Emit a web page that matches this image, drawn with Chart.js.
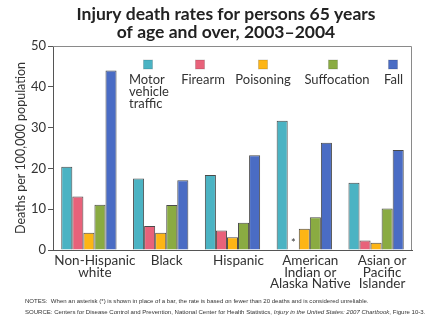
<!DOCTYPE html>
<html>
<head>
<meta charset="utf-8">
<script src="https://cdn.jsdelivr.net/npm/chart.js@4.4.1/dist/chart.umd.min.js"></script>
<style>
  html, body { margin: 0; padding: 0; background: #fff; }
  #wrap { position: relative; width: 440px; height: 330px; overflow: hidden; }
  #box { position: absolute; left: 0; top: 0; width: 440px; height: 300px; }
  .note { position: absolute; left: 25px; font: 6.05px 'Liberation Sans', Arial, sans-serif; color: #333; white-space: nowrap; }
</style>
</head>
<body>
<div id="wrap">
  <div id="box"><canvas id="grafico"></canvas></div>
  <div class="note" style="top:298px">NOTES:&nbsp; When an asterisk (*) is shown in place of a bar, the rate is based on fewer than 20 deaths and is considered unreliable.</div>
  <div class="note" style="top:309px">SOURCE: Centers for Disease Control and Prevention, National Center for Health Statistics, <i>Injury in the United States: 2007 Chartbook</i>, Figure 10-3.</div>
</div>
<script>
'use strict';

// ── Dati ─────────────────────────────────────────────
const categorie = [
  ['Non-Hispanic', 'white'],
  'Black',
  'Hispanic',
  ['American', 'Indian or', 'Alaska Native'],
  ['Asian or', 'Pacific', 'Islander']
];
const serieNomi = ['Motor vehicle traffic', 'Firearm', 'Poisoning', 'Suffocation', 'Fall'];
const serieLegenda = [['Motor', 'vehicle', 'traffic'], ['Firearm'], ['Poisoning'], ['Suffocation'], ['Fall']];
const motorVehicle = [20.4, 17.5, 18.4, 31.7, 16.5];
const firearm      = [13.1, 5.9, 4.8, null, 2.3];   // null = meno di 20 decessi (*)
const poisoning    = [4.2, 4.2, 3.1, 5.2, 1.8];
const suffocation  = [11.1, 11.0, 6.7, 8.0, 10.2];
const fall         = [44.0, 17.1, 23.2, 26.3, 24.5];
const yTicks       = [0, 10, 20, 30, 40, 50];
const titolo = ['Injury death rates for persons 65 years', 'of age and over, 2003\u20132004'];

const colori = ['#4bb3c3', '#e8627a', '#fdb515', '#8aab42', '#4a6cc4'];
const FONT = "Lato, 'Open Sans', sans-serif";
const TXT = '#333';

// legenda dentro l'area del grafico: centro quadratino, allineamento testo
const legendaPos = [
  { x: 148, align: 'left', tx: 129 },
  { x: 200, align: 'center', tx: 203 },
  { x: 263, align: 'center', tx: 263 },
  { x: 333, align: 'center', tx: 337 },
  { x: 393, align: 'center', tx: 393.5 }
];

// titolo disegnato a mano (centrato un po' a destra del canvas)
const titoloPlugin = {
  id: 'titoloPlugin',
  afterDraw(chart) {
    const ctx = chart.ctx;
    ctx.save();
    ctx.fillStyle = '#222';
    ctx.font = 'bold 17.5px ' + FONT;
    ctx.textAlign = 'center';
    ctx.textBaseline = 'middle';
    titolo.forEach((t, k) => ctx.fillText(t, 226, 14.5 + k * 17.5));
    ctx.restore();
  }
};

const legendaInterna = {
  id: 'legendaInterna',
  afterDatasetsDraw(chart) {
    const ctx = chart.ctx;
    ctx.save();
    serieLegenda.forEach((righe, i) => {
      const p = legendaPos[i];
      ctx.fillStyle = colori[i];
      ctx.strokeStyle = 'rgba(0,0,0,0.15)';
      ctx.lineWidth = 1;
      ctx.fillRect(p.x - 4.5, 60, 9, 9);
      ctx.strokeRect(p.x - 4.5, 60, 9, 9);
      ctx.fillStyle = TXT;
      ctx.font = '13px ' + FONT;
      ctx.textAlign = p.align;
      ctx.textBaseline = 'middle';
      righe.forEach((r, k) => ctx.fillText(r, p.tx, 80 + k * 11.7));
    });

    // asterisco al posto della barra non affidabile
    const metaP = chart.getDatasetMeta(2);
    firearm.forEach((v, i) => {
      if (v !== null) return;
      const el = metaP.data[i];
      const x = el.x - el.width;
      ctx.font = '11px ' + FONT;
      ctx.textAlign = 'center';
      ctx.fillStyle = TXT;
      ctx.fillText('*', x, chart.chartArea.bottom - 7);
    });

    // cornice superiore e destra
    const a = chart.chartArea;
    ctx.strokeStyle = '#8a8a8a';
    ctx.lineWidth = 1;
    ctx.beginPath();
    ctx.moveTo(a.left, a.top + 0.5);
    ctx.lineTo(a.right - 0.5, a.top + 0.5);
    ctx.lineTo(a.right - 0.5, a.bottom);
    ctx.stroke();
    ctx.restore();
  }
};

const serie = [motorVehicle, firearm, poisoning, suffocation, fall];

new Chart(document.getElementById('grafico'), {
  type: 'bar',
  data: {
    labels: categorie,
    datasets: serie.map((d, i) => ({
      label: serieNomi[i],
      data: d,
      backgroundColor: colori[i],
      borderColor: '#4a4a4a',
      borderWidth: 1,
      categoryPercentage: 0.77,
      barPercentage: 1.0
    }))
  },
  options: {
    responsive: true,
    maintainAspectRatio: false,
    animation: false,
    layout: { padding: { left: 0, right: 28, top: 46, bottom: 0 } },
    plugins: {
      legend: { display: false },
      tooltip: { enabled: false },
      title: { display: false }
    },
    scales: {
      x: {
        grid: { display: false },
        border: { color: '#555', width: 1 },
        ticks: {
          color: TXT,
          font: { family: FONT, size: 13.5, lineHeight: 0.86 },
          maxRotation: 0,
          autoSkip: false,
          labelOffset: 6,
          padding: -3
        },
        afterFit: s => { s.height = 50; }
      },
      y: {
        min: 0,
        max: 50,
        afterBuildTicks: s => { s.ticks = yTicks.map(v => ({ value: v })); },
        grid: { drawOnChartArea: false, tickLength: 5, color: '#555' },
        border: { color: '#555', width: 1 },
        ticks: { color: TXT, font: { family: FONT, size: 13 }, padding: 2 },
        title: {
          display: true,
          text: 'Deaths per 100,000 population',
          color: TXT,
          font: { family: FONT, size: 12.5 },
          padding: { top: 13, bottom: 0 }
        },
        afterFit: s => { s.width = 53; }
      }
    }
  },
  plugins: [legendaInterna, titoloPlugin]
});
</script>
</body>
</html>
